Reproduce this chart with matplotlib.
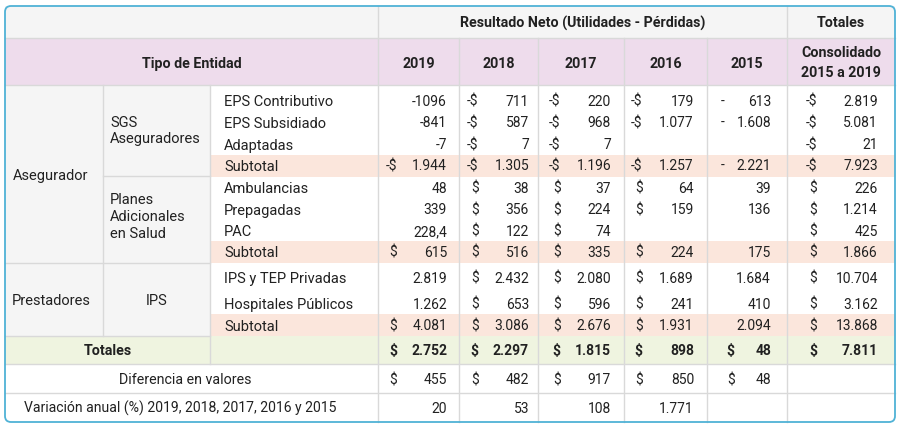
import matplotlib
matplotlib.use("Agg")
import matplotlib.pyplot as plt
from matplotlib.patches import Rectangle, FancyBboxPatch

plt.rcParams["font.family"] = ["Roboto", "DejaVu Sans"]

# ===== Data =====
YEARS = ["2019", "2018", "2017", "2016", "2015"]
TOTAL_HEADER = "Consolidado\n2015 a 2019"

GROUPS = ["Asegurador", "Prestadores"]
SUBGROUPS = ["SGS\nAseguradores", "Planes\nAdicionales\nen Salud", "IPS"]
ROW_LABELS = [
    "EPS Contributivo", "EPS Subsidiado", "Adaptadas", "Subtotal",
    "Ambulancias", "Prepagadas", "PAC", "Subtotal",
    "IPS y TEP Privadas", "Hospitales Públicos", "Subtotal",
]

# cell text as shown; "prefix number" when the cell has a currency sign
VAL_2019 = ["-1096", "-841", "-7", "-$ 1.944", "48", "339", "228,4", "$ 615",
            "2.819", "1.262", "$ 4.081"]
VAL_2018 = ["-$ 711", "-$ 587", "-$ 7", "-$ 1.305", "$ 38", "$ 356", "$ 122", "$ 516",
            "$ 2.432", "$ 653", "$ 3.086"]
VAL_2017 = ["-$ 220", "-$ 968", "-$ 7", "-$ 1.196", "$ 37", "$ 224", "$ 74", "$ 335",
            "$ 2.080", "$ 596", "$ 2.676"]
VAL_2016 = ["-$ 179", "-$ 1.077", "", "-$ 1.257", "$ 64", "$ 159", "", "$ 224",
            "$ 1.689", "$ 241", "$ 1.931"]
VAL_2015 = ["- 613", "- 1.608", "", "- 2.221", "39", "136", "", "175",
            "1.684", "410", "2.094"]
VAL_TOTAL = ["-$ 2.819", "-$ 5.081", "-$ 21", "-$ 7.923", "$ 226", "$ 1.214", "$ 425", "$ 1.866",
             "$ 10.704", "$ 3.162", "$ 13.868"]

TOTALES = ["$ 2.752", "$ 2.297", "$ 1.815", "$ 898", "$ 48", "$ 7.811"]
DIFERENCIA = ["$ 455", "$ 482", "$ 917", "$ 850", "$ 48", ""]
VARIACION = ["20", "53", "108", "1.771", "", ""]

# ===== Layout (pixels) =====
W, H = 900, 430
LEFT, RIGHT, TOP, BOTTOM = 5, 895, 6, 422
COL_X = [LEFT, 103, 210, 378, 459, 538, 624, 707, 787, RIGHT]
DOLLAR_X = [391, 472, 554, 636, 728, 811]   # left edge of "$"
NUM_RIGHT = [447, 529, 611, 694, 771, 878]
ROW_Y = [101, 122.5, 144.5, 165.5, 188, 209.5, 231, 252, 278, 304, 325.5]
SUBTOTAL_BANDS = [(155, 177), (241, 263), (314, 336)]
H1, H2, BODY_END = 38, 85, 336
TOT_END, DIF_END = 364, 393
BASE = 4.8  # half cap height, pixels

TEXT = "#212121"
GRID = "#d9d9d9"
GRAY_BG = "#f5f5f5"
PURPLE = "#eedcec"
SALMON = "#fbe6dc"
GREEN = "#eff4e0"
BORDER = "#4fb2d6"

FS = 10
FS_LABEL = 10.5
FS_HEAD = 10.3


def rect(ax, x0, y0, x1, y1, color):
    ax.add_patch(Rectangle((x0, y0), x1 - x0, y1 - y0, facecolor=color, edgecolor="none", zorder=1))


def label(ax, x, y, text, ha="left", fs=FS_LABEL, bold=False):
    ax.text(x, y + BASE * fs / FS, text, ha=ha, va="baseline", fontsize=fs, color=TEXT,
            fontweight="bold" if bold else "normal", zorder=3)


def cell(ax, text, col, y, bold=False):
    if not text:
        return
    weight = "bold" if bold else "normal"
    if " " in text:
        prefix, num = text.split(" ", 1)
        if "$" in prefix:
            ax.text(DOLLAR_X[col] + 6.5, y + BASE, prefix, ha="right", va="baseline",
                    fontsize=FS, color=TEXT, fontweight=weight, zorder=3)
        else:
            ax.text(DOLLAR_X[col] - 7, y + BASE, prefix, ha="left", va="baseline",
                    fontsize=FS, color=TEXT, fontweight=weight, zorder=3)
    else:
        num = text
    ax.text(NUM_RIGHT[col], y + BASE, num, ha="right", va="baseline", fontsize=FS,
            color=TEXT, fontweight=weight, zorder=3)


fig = plt.figure(figsize=(W / 100, H / 100), dpi=100)
ax = fig.add_axes([0, 0, 1, 1])
ax.set_xlim(0, W)
ax.set_ylim(H, 0)
ax.axis("off")

# backgrounds
rect(ax, LEFT, TOP, RIGHT, H1, GRAY_BG)
rect(ax, LEFT, H1, RIGHT, H2, PURPLE)
rect(ax, LEFT, H2, COL_X[2], BODY_END, GRAY_BG)
for y0, y1 in SUBTOTAL_BANDS:
    rect(ax, COL_X[2], y0, RIGHT, y1, SALMON)
rect(ax, LEFT, BODY_END, RIGHT, TOT_END, GREEN)

# grid lines
lw = 1.0
for y, x0, x1 in [(H1, LEFT, RIGHT), (H2, LEFT, RIGHT), (176, COL_X[1], COL_X[2]),
                  (263, LEFT, COL_X[2]), (BODY_END, LEFT, COL_X[2]),
                  (TOT_END, LEFT, RIGHT), (DIF_END, LEFT, RIGHT)]:
    ax.plot([x0, x1], [y, y], color=GRID, lw=lw, zorder=2)
for x, y0, y1 in [(COL_X[1], H2, BODY_END), (COL_X[2], H2, TOT_END),
                  (COL_X[3], TOP, BOTTOM), (COL_X[8], TOP, BOTTOM)]:
    ax.plot([x, x], [y0, y1], color=GRID, lw=lw, zorder=2)
for x in COL_X[4:8]:
    ax.plot([x, x], [H1, BOTTOM], color=GRID, lw=lw, zorder=2)

# outer rounded border
ax.add_patch(FancyBboxPatch((LEFT, TOP), RIGHT - LEFT, BOTTOM - TOP,
                            boxstyle="round,pad=0,rounding_size=6",
                            facecolor="none", edgecolor=BORDER, lw=1.3, zorder=4))

# headers
label(ax, (COL_X[3] + COL_X[8]) / 2, 22.5, "Resultado Neto (Utilidades - Pérdidas)",
      ha="center", fs=FS_HEAD, bold=True)
label(ax, (COL_X[8] + RIGHT) / 2, 22.5, "Totales", ha="center", fs=FS_HEAD, bold=True)
label(ax, (LEFT + COL_X[3]) / 2, 63, "Tipo de Entidad", ha="center", fs=FS_HEAD, bold=True)
for i, yr in enumerate(YEARS):
    label(ax, (COL_X[3 + i] + COL_X[4 + i]) / 2, 63, yr, ha="center", fs=FS_HEAD, bold=True)
label(ax, (COL_X[8] + RIGHT) / 2, 52.5, TOTAL_HEADER.split("\n")[0], ha="center",
      fs=FS_HEAD, bold=True)
label(ax, (COL_X[8] + RIGHT) / 2, 72, TOTAL_HEADER.split("\n")[1], ha="center",
      fs=FS_HEAD, bold=True)

# group labels
label(ax, 13, 175, GROUPS[0])
label(ax, 12, 300, GROUPS[1])
ax.text(110, 131, SUBGROUPS[0], ha="left", va="center", fontsize=FS_LABEL, color=TEXT,
        linespacing=1.25)
ax.text(110, 217, SUBGROUPS[1], ha="left", va="center", fontsize=FS_LABEL, color=TEXT,
        linespacing=1.25)
label(ax, (COL_X[1] + COL_X[2]) / 2, 300, SUBGROUPS[2], ha="center")

# body rows
columns = [VAL_2019, VAL_2018, VAL_2017, VAL_2016, VAL_2015, VAL_TOTAL]
for r, (name, y) in enumerate(zip(ROW_LABELS, ROW_Y)):
    label(ax, 224, y, name)
    for c, vals in enumerate(columns):
        cell(ax, vals[r], c, y)

# footer rows
label(ax, (LEFT + COL_X[2]) / 2, 350.5, "Totales", ha="center", fs=FS_HEAD, bold=True)
for c, v in enumerate(TOTALES):
    cell(ax, v, c, 350.5, bold=True)
label(ax, 185, 379.5, "Diferencia en valores", ha="center", fs=10.3)
for c, v in enumerate(DIFERENCIA):
    cell(ax, v, c, 379.5)
label(ax, 180, 408, "Variación anual (%) 2019, 2018, 2017, 2016 y 2015", ha="center", fs=10.1)
for c, v in enumerate(VARIACION):
    cell(ax, v, c, 408)

fig.savefig("out.png", dpi=100, facecolor="white")
